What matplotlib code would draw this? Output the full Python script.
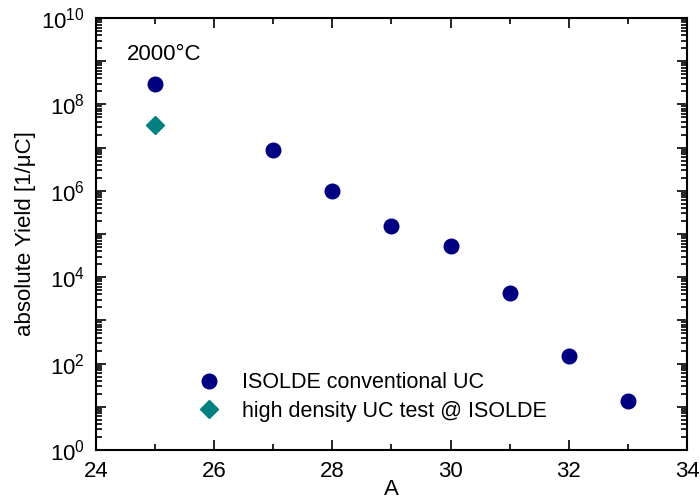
import math
import matplotlib
matplotlib.use("Agg")
import matplotlib.pyplot as plt
from matplotlib.ticker import LogLocator, MultipleLocator, FixedLocator, FuncFormatter, NullFormatter

plt.rcParams['font.family'] = ['Liberation Sans', 'DejaVu Sans']
plt.rcParams['mathtext.fontset'] = 'custom'
plt.rcParams['mathtext.rm'] = 'Liberation Sans'

mass_conv = [25, 27, 28, 29, 30, 31, 32, 33]
yield_conv = [3.0e8, 8.8e6, 1.0e6, 1.5e5, 5.3e4, 4.3e3, 1.5e2, 13.5]
mass_hd = [25]
yield_hd = [3.3e7]
label_conv = "ISOLDE conventional UC"
label_hd = "high density UC test @ ISOLDE"

fig = plt.figure(figsize=(7, 4.99), dpi=100)
ax = fig.add_axes([96/700, 1-450/499, (687-96)/700, (450-18)/499])

ax.plot(mass_conv, yield_conv, 'o', color='#000080', markersize=10.5, label=label_conv, linestyle='none')
ax.plot(mass_hd, yield_hd, 'D', color='#008080', markersize=9.5, label=label_hd, linestyle='none')

ax.set_yscale('log')
ax.set_xlim(24, 34)
ax.set_ylim(1, 1e10)
ax.xaxis.set_major_locator(MultipleLocator(2))
ax.xaxis.set_minor_locator(MultipleLocator(1))
ax.yaxis.set_major_locator(FixedLocator([10.0**k for k in range(0, 11)]))
ax.yaxis.set_minor_locator(LogLocator(base=10, subs=range(2, 10), numticks=30))

def yfmt(v, p):
    k = int(round(math.log10(v)))
    return r'$10^{%d}$' % k if k % 2 == 0 else ''

ax.yaxis.set_major_formatter(FuncFormatter(yfmt))
ax.yaxis.set_minor_formatter(NullFormatter())
ax.tick_params(which='both', direction='in', top=True, right=True, labelsize=16, width=1.2)
ax.tick_params(which='major', length=7)
ax.tick_params(which='minor', length=4)
ax.tick_params(axis='x', which='major', pad=8)
ax.tick_params(axis='y', which='major', pad=8)
for s in ax.spines.values():
    s.set_linewidth(1.5)

ax.text(25.15, 1.4e9, "2000°C", fontsize=16, ha='center', va='center')

ax.set_xlabel("A", fontsize=16, labelpad=-2)
ax.set_ylabel("absolute Yield [1/μC]", fontsize=16, labelpad=4)

ax.legend(loc='lower left', bbox_to_anchor=(0.15, 0.045), frameon=False, fontsize=15.5,
          handletextpad=0.75, labelspacing=0.35, borderaxespad=0, handlelength=1.5)

fig.savefig("out.png", dpi=100)
